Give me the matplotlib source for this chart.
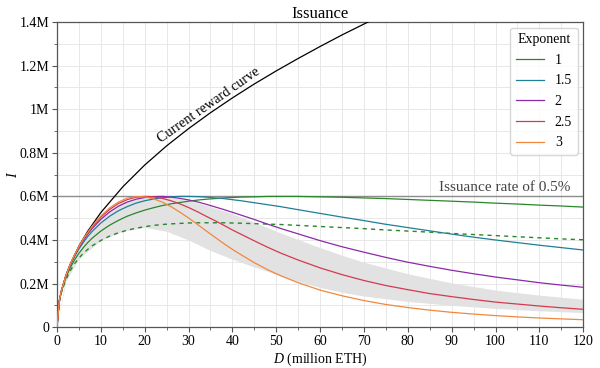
import numpy as np
import matplotlib
matplotlib.use('Agg')
from matplotlib import pyplot as plt
from matplotlib.ticker import MultipleLocator

plt.rcParams['font.family'] = ['Liberation Serif', 'DejaVu Serif']
plt.rcParams['mathtext.fontset'] = 'custom'
plt.rcParams['mathtext.it'] = 'Liberation Serif:italic'
plt.rcParams['mathtext.rm'] = 'Liberation Serif'

# staked ETH (million) and issuance (thousand ETH)
D = [0, 0.5, 1, 2, 3, 4, 5, 6, 7, 8, 10, 12, 14, 16, 18, 20, 22, 24, 26, 28, 30, 32, 34, 36,
     38, 40, 42, 45, 48, 51, 55, 60, 65, 70, 75, 80, 85, 90, 95, 100, 105, 110, 115, 120]
exp_1 = [0, 116, 163, 226, 272, 309, 339, 365, 388, 408, 441, 468, 490, 509, 524, 537, 548, 558, 566, 572, 578, 583,
         587, 590, 593, 595, 597, 598, 600, 600, 600, 598, 596, 593, 590, 586, 582, 578, 574, 569, 565, 560, 556, 551]
exp_15 = [0, 117, 166, 233, 283, 324, 359, 389, 416, 439, 478, 509, 534, 553, 569, 580, 588, 594, 598, 600, 600, 599,
          597, 593, 590, 585, 580, 571, 562, 553, 539, 522, 505, 489, 472, 457, 442, 427, 413, 400, 388, 376, 365, 354]
exp_2 = [0, 118, 166, 235, 286, 329, 366, 398, 427, 452, 495, 529, 555, 574, 587, 595, 599, 600, 597, 591, 584, 575,
         564, 552, 540, 527, 514, 494, 473, 453, 428, 397, 369, 344, 320, 298, 279, 261, 245, 230, 217, 204, 193, 183]
exp_25 = [0, 118, 166, 235, 287, 331, 369, 403, 432, 459, 505, 540, 567, 585, 596, 600, 598, 591, 580, 566, 549, 530,
          509, 489, 468, 446, 426, 396, 367, 340, 308, 272, 241, 214, 191, 172, 154, 140, 127, 115, 106, 97, 89, 82]
exp_3 = [0, 118, 166, 235, 288, 332, 370, 405, 435, 463, 510, 547, 574, 592, 599, 598, 589, 574, 553, 528, 501, 472,
         442, 413, 384, 357, 332, 296, 264, 236, 204, 170, 144, 122, 104, 90, 78, 68, 60, 53, 47, 42, 38, 34]
dashed = [0, 113, 158, 217, 258, 291, 317, 339, 357, 373, 398, 418, 433, 445, 454, 461, 467, 471, 474, 476, 478, 479,
          479, 479, 479, 478, 477, 475, 473, 471, 467, 462, 457, 452, 446, 441, 436, 430, 425, 420, 415, 410, 405, 401]

D_cur = [0, 0.5, 1, 2, 3, 5, 7, 10, 15, 20, 25, 30, 35, 40, 45, 50, 55, 60, 65, 70, 72]
current = [0, 118, 166, 235, 288, 372, 440, 526, 644, 744, 832, 911, 984, 1052, 1116, 1176, 1233, 1288, 1341, 1391, 1411]

D_band = [0, 2, 5, 10, 15, 20, 25, 30, 35, 40, 45, 50, 55, 60, 65, 70, 80, 90, 100, 110, 120]
band_hi = [0, 235, 370, 505, 575, 598, 600, 582, 553, 520, 482, 440, 402, 365, 330, 298, 245, 203, 170, 147, 128]
band_lo = [0, 210, 315, 398, 440, 458, 440, 400, 352, 312, 276, 242, 210, 182, 160, 143, 118, 100, 86, 75, 67]

exponents = ['1', '1.5', '2', '2.5', '3']
curves = [exp_1, exp_15, exp_2, exp_25, exp_3]
colors = ['#2a862a', '#1f7f95', '#8b2aa8', '#d43a4f', '#f0883e']

yticks = [0, 0.2, 0.4, 0.6, 0.8, 1.0, 1.2, 1.4]
ylabels = ['0', '0.2M', '0.4M', '0.6M', '0.8M', '1M', '1.2M', '1.4M']

fig = plt.figure(figsize=(6, 3.68), dpi=100)
ax = fig.add_axes([0.095, 0.111, 0.877, 0.829])

ax.fill_between(D_band, np.array(band_hi) / 1000, np.array(band_lo) / 1000, color='#e2e2e2', lw=0, zorder=1)
ax.axhline(0.6, color='#8c8c8c', lw=1, zorder=2)
ax.plot(D_cur, np.array(current) / 1000, color='black', lw=0.9, zorder=3)
ax.plot(D, np.array(dashed) / 1000, color=colors[0], lw=1, linestyle=(0, (3, 3)), zorder=3)
for lab, vals, col in zip(exponents, curves, colors):
    ax.plot(D, np.array(vals) / 1000, color=col, lw=0.9, label=lab, zorder=4)

ax.text(34.5, 1.02, 'Current reward curve', rotation=35, ha='center', va='center', fontsize=10.3)
ax.text(117, 0.612, 'Issuance rate of 0.5%', ha='right', va='bottom', fontsize=11, color='#444444')

ax.set_xlim(0, 120)
ax.set_ylim(0, 1.4)
ax.set_yticks(yticks)
ax.set_yticklabels(ylabels)
ax.xaxis.set_major_locator(MultipleLocator(10))
ax.xaxis.set_minor_locator(MultipleLocator(5))
ax.yaxis.set_minor_locator(MultipleLocator(0.1))
ax.grid(which='both', color='#e8e8e8', lw=0.7)
ax.set_axisbelow(True)
ax.tick_params(which='major', length=3.5, width=0.8, labelsize=10, pad=2, color='#555555')
ax.tick_params(which='minor', length=2, width=0.6, color='#555555')
for s in ax.spines.values():
    s.set_color('#555555')
    s.set_linewidth(0.9)

ax.set_title('Issuance', fontsize=12, pad=3)
ax.set_xlabel('$D$ (million ETH)', fontsize=10, labelpad=2)
ax.set_ylabel('$I$', fontsize=10, labelpad=0)

leg = ax.legend(title='Exponent', loc='upper right', fontsize=10, title_fontsize=10,
                labelspacing=0.55, handlelength=2.0, borderaxespad=0.4, fancybox=True)
leg.get_frame().set_edgecolor('#cccccc')

fig.savefig('out.png', dpi=100)
